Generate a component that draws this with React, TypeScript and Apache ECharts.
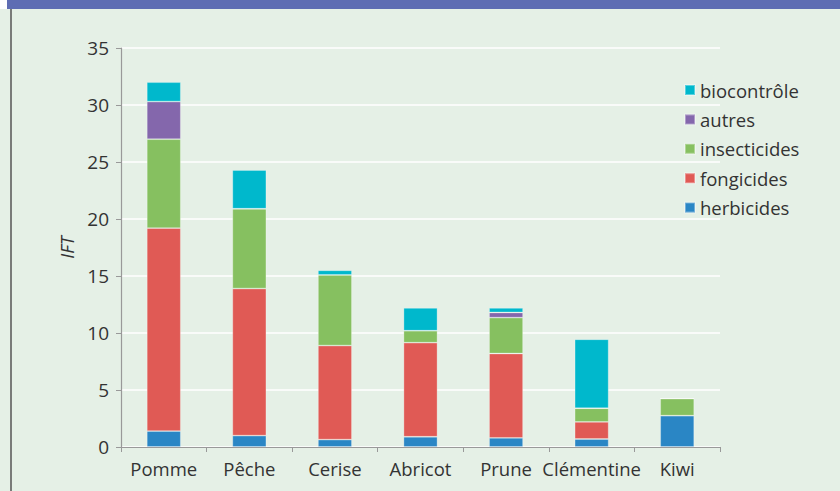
import React, { useEffect, useRef } from "react";
import * as echarts from "echarts";

const categories = ["Pomme", "Pêche", "Cerise", "Abricot", "Prune", "Clémentine", "Kiwi"];
const herbicides = [1.4, 1.0, 0.65, 0.9, 0.8, 0.7, 2.75];
const fongicides = [17.8, 12.9, 8.25, 8.25, 7.4, 1.5, 0];
const insecticides = [7.8, 7.0, 6.2, 1.05, 3.15, 1.2, 1.5];
const autres = [3.3, 0, 0, 0, 0.45, 0, 0];
const biocontrole = [1.7, 3.4, 0.4, 2.0, 0.4, 6.05, 0];
const yTicks = [0, 5, 10, 15, 20, 25, 30, 35];

const FONT = "Open Sans";

export default function App() {
  const ref = useRef<HTMLDivElement>(null);
  useEffect(() => {
    document.body.style.margin = "0";
    const chart = echarts.init(ref.current!, null, { renderer: "svg" });
    const mk = (name: string, data: number[], color: string) => ({
      name,
      type: "bar",
      stack: "total",
      data,
      barWidth: 34,
      itemStyle: { color, borderColor: "rgba(255,255,255,0.35)", borderWidth: 0.8 },
    });
    chart.setOption({
      animation: false,
      backgroundColor: "#e5f0e6",
      graphic: [
        { type: "rect", shape: { x: 0, y: 0, width: 7, height: 9 }, style: { fill: "#ffffff" } },
        { type: "rect", shape: { x: 7, y: 0, width: 833, height: 9 }, style: { fill: "#5e6db3" } },
        { type: "line", shape: { x1: 11, y1: 9, x2: 11, y2: 491 }, style: { stroke: "#555555", lineWidth: 1.5 } },
      ],
      grid: { left: 121, right: 120, top: 48, bottom: 44 },
      legend: {
        orient: "vertical",
        left: 684,
        top: 80,
        padding: 0,
        itemWidth: 10,
        itemHeight: 10,
        itemGap: 9.4,
        icon: "rect",
        data: ["biocontrôle", "autres", "insecticides", "fongicides", "herbicides"],
        textStyle: { fontFamily: FONT, fontSize: 18.5, color: "#333333", lineHeight: 20 },
      },
      xAxis: {
        type: "category",
        data: categories,
        axisLine: { lineStyle: { color: "#999999", width: 1.2 } },
        axisTick: { show: true, length: 5, lineStyle: { color: "#999999" } },
        axisLabel: { fontFamily: FONT, fontSize: 18.5, color: "#333333", margin: 12, interval: 0 },
      },
      yAxis: {
        type: "value",
        min: 0,
        max: 35,
        interval: 5,
        name: "IFT",
        nameLocation: "middle",
        nameGap: 44,
        nameTextStyle: { fontFamily: FONT, fontSize: 18, fontStyle: "italic", color: "#333333" },
        axisLine: { show: true, lineStyle: { color: "#999999", width: 1.2 } },
        axisTick: { show: true, length: 5, lineStyle: { color: "#999999" } },
        axisLabel: {
          fontFamily: FONT,
          fontSize: 19,
          color: "#333333",
          margin: 12,
          formatter: (v: number) => (yTicks.includes(v) ? String(v) : ""),
        },
        splitLine: { lineStyle: { color: "#ffffff", width: 1.5 } },
      },
      series: [
        mk("herbicides", herbicides, "#2a86c5"),
        mk("fongicides", fongicides, "#e05a55"),
        mk("insecticides", insecticides, "#86c060"),
        mk("autres", autres, "#8467ac"),
        mk("biocontrôle", biocontrole, "#00b8cc"),
      ],
    });
    return () => chart.dispose();
  }, []);
  return <div ref={ref} style={{ width: 840, height: 491 }} />;
}
